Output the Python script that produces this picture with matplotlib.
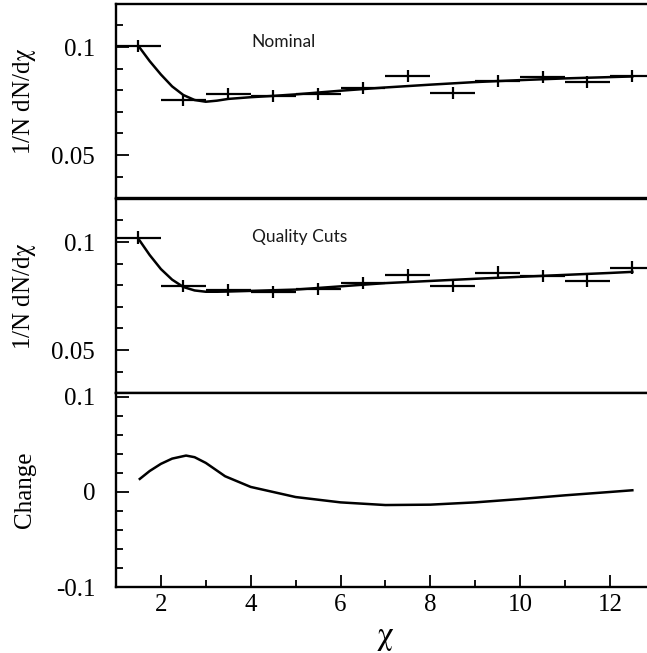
import matplotlib
matplotlib.use('Agg')
import matplotlib.pyplot as plt
from matplotlib.ticker import FixedLocator, FixedFormatter, MultipleLocator

plt.rcParams['font.family'] = ['Liberation Serif', 'DejaVu Serif']
plt.rcParams['mathtext.fontset'] = 'stix'

# bin centres (half width 0.5)
chi = [1.5, 2.5, 3.5, 4.5, 5.5, 6.5, 7.5, 8.5, 9.5, 10.5, 11.5, 12.5]
nominal = [0.1005, 0.0753, 0.0781, 0.0772, 0.0784, 0.0812, 0.0868, 0.0789, 0.0844, 0.0860, 0.0838, 0.0868]
nominal_err = [0.0030, 0.0028, 0.0028, 0.0028, 0.0028, 0.0028, 0.0028, 0.0028, 0.0028, 0.0028, 0.0028, 0.0028]
quality = [0.1020, 0.0795, 0.0780, 0.0769, 0.0782, 0.0811, 0.0849, 0.0797, 0.0859, 0.0843, 0.0822, 0.0882]
quality_err = [0.0030, 0.0028, 0.0028, 0.0028, 0.0028, 0.0028, 0.0028, 0.0028, 0.0028, 0.0028, 0.0028, 0.0028]

# fit curves
fit_x = [1.5, 1.75, 2.0, 2.25, 2.5, 2.75, 3.0, 3.25, 3.5, 4.0, 4.5, 5.0, 6.0, 7.0, 8.0, 9.0, 10.0, 11.0, 12.0, 12.5]
nominal_fit = [0.1005, 0.0935, 0.0873, 0.0818, 0.0778, 0.0755, 0.0747, 0.0752, 0.0760, 0.0768, 0.0774, 0.0781,
               0.0798, 0.0813, 0.0826, 0.0838, 0.0847, 0.0855, 0.0861, 0.0864]
quality_fit = [0.1015, 0.0940, 0.0875, 0.0826, 0.0792, 0.0776, 0.0770, 0.0770, 0.0771, 0.0774, 0.0777, 0.0780,
               0.0795, 0.0810, 0.0820, 0.0830, 0.0839, 0.0848, 0.0857, 0.0862]

change_x = [1.53, 1.75, 2.0, 2.25, 2.56, 2.75, 3.0, 3.2, 3.43, 4.0, 5.0, 6.0, 7.0, 8.0, 9.0, 10.0, 11.0, 12.0, 12.5]
change = [0.0137, 0.0220, 0.0295, 0.0350, 0.0382, 0.0365, 0.0305, 0.0240, 0.0165, 0.0053, -0.0053, -0.0109,
          -0.0137, -0.0133, -0.0109, -0.0074, -0.0035, 0.0, 0.0018]

top_ticks = [0.05, 0.1]
top_labels = ['0.05', '0.1']
chg_ticks = [-0.1, 0, 0.1]
chg_labels = ['-0.1', '0', '0.1']
x_ticks = [2, 4, 6, 8, 10, 12]
x_labels = ['2', '4', '6', '8', '10', '12']

fig = plt.figure(figsize=(6.47, 6.53), dpi=100)
left = 116 / 647
width = 12 * 44.9 / 647
h = 0.2978
ax1 = fig.add_axes([left, 0.6963, width, h])
ax2 = fig.add_axes([left, 0.3977, width, h])
ax3 = fig.add_axes([left, 0.1006, width, h])

for ax in (ax1, ax2, ax3):
    ax.set_xlim(1, 13)
    for s in ax.spines.values():
        s.set_linewidth(1.7)
    ax.tick_params(which='both', direction='in', labelsize=18, width=1.3)
    ax.tick_params(which='major', length=9)
    ax.tick_params(which='minor', length=5)
    ax.tick_params(axis='y', pad=15, right=False)
    ax.tick_params(axis='x', pad=5, top=False)

for ax, vals, errs, fit, name in ((ax1, nominal, nominal_err, nominal_fit, 'Nominal'),
                                  (ax2, quality, quality_err, quality_fit, 'Quality Cuts')):
    ax.errorbar(chi, vals, xerr=0.5, yerr=errs, fmt='none', ecolor='black', elinewidth=1.6, capsize=0)
    ax.plot(fit_x, fit, color='black', lw=1.8)
    ax.set_ylim(0.03, 0.12)
    ax.yaxis.set_major_locator(FixedLocator(top_ticks))
    ax.yaxis.set_major_formatter(FixedFormatter(top_labels))
    ax.yaxis.set_minor_locator(MultipleLocator(0.01))
    ax.set_xticks([])
    ax.xaxis.set_minor_locator(FixedLocator([]))
    ax.text(4.02, 0.1022, name, family=['Lato', 'DejaVu Sans'],
            fontsize=12.5, ha='left', va='center', color='#1a1a1a')
    fig.text(25 / 647, ax.get_position().y0 + h / 2, r'1/N dN/d$\mathrm{\chi}$', rotation=90,
             ha='center', va='center', fontsize=18)

ax3.plot(change_x, change, color='black', lw=1.8)
ax3.set_ylim(-0.1, 0.104)
ax3.yaxis.set_major_locator(FixedLocator(chg_ticks))
ax3.yaxis.set_major_formatter(FixedFormatter(chg_labels))
ax3.yaxis.set_minor_locator(MultipleLocator(0.02))
ax3.xaxis.set_major_locator(FixedLocator(x_ticks))
ax3.xaxis.set_major_formatter(FixedFormatter(x_labels))
ax3.xaxis.set_minor_locator(MultipleLocator(1))
fig.text(25 / 647, 0.1006 + h / 2, 'Change', rotation=90, ha='center', va='center', fontsize=18)
fig.text(385 / 647, 1 - 638 / 653, r'$\mathrm{\chi}$', ha='center', va='center', fontsize=24)

fig.savefig('out.png', dpi=100)
